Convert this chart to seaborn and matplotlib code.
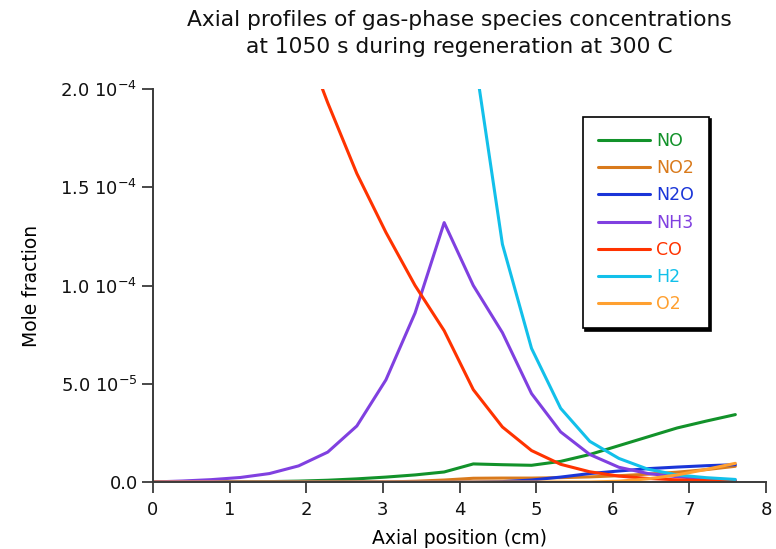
import numpy as np
import pandas as pd
import matplotlib
matplotlib.use("Agg")
import matplotlib.pyplot as plt
import seaborn as sns

nan = np.nan
position = [0.0, 0.38, 0.76, 1.14, 1.52, 1.9, 2.28, 2.66, 3.04, 3.42, 3.8,
            4.18, 4.56, 4.94, 5.32, 5.7, 6.08, 6.46, 6.84, 7.22, 7.6]

# values in units of 1e-6 mole fraction
NO = [0, 0, 0.05, 0.1, 0.2, 0.45, 0.9, 1.6, 2.5, 3.6, 5.1,
      9.2, 8.8, 8.5, 10.5, 14.0, 18.5, 23.0, 27.5, 31.0, 34.3]
NO2 = [0, 0, 0, 0, 0, 0, 0, 0, 0, 0.4, 1.0,
       1.9, 2.0, 2.0, 2.2, 2.6, 3.2, 4.0, 5.0, 6.3, 8.0]
N2O = [0, 0, 0, 0, 0, 0, 0, 0, 0, 0, 0,
       0, 0.2, 1.0, 2.5, 4.3, 5.6, 6.8, 7.6, 8.3, 8.8]
NH3 = [0, 0.5, 1.2, 2.3, 4.3, 8.2, 15.2, 28.5, 52.0, 86.0, 132.0,
       100.0, 76.0, 45.0, 25.5, 14.0, 7.5, 4.3, 2.7, 1.5, 0.8]
CO = [nan, nan, nan, nan, nan, 232.0, 193.0, 157.0, 127.0, 100.0, 77.0,
      47.0, 28.0, 16.0, 9.0, 5.2, 3.0, 1.8, 1.1, 0.7, 0.4]
H2 = [nan, nan, nan, nan, nan, nan, nan, nan, nan, nan, nan,
      221.0, 121.0, 68.0, 37.5, 20.7, 12.0, 6.5, 3.6, 2.2, 1.3]
O2 = [0, 0, 0, 0, 0, 0, 0, 0, 0, 0, 0,
      0, 0, 0, 0, 0, 0.4, 1.6, 3.6, 6.4, 9.5]

species = ["NO", "NO2", "N2O", "NH3", "CO", "H2", "O2"]
series = [NO, NO2, N2O, NH3, CO, H2, O2]
colors = ["#12922A", "#D97A1C", "#1A35D8", "#8040E0", "#FF3300", "#12C0EA", "#FFA030"]

y_ticks = [0.0, 5e-5, 1e-4, 1.5e-4, 2e-4]
y_ticklabels = ["0.0", r"5.0 10$^{-5}$", r"1.0 10$^{-4}$", r"1.5 10$^{-4}$", r"2.0 10$^{-4}$"]
x_ticks = [0, 1, 2, 3, 4, 5, 6, 7, 8]

rows = []
for name, vals in zip(species, series):
    for x, v in zip(position, vals):
        rows.append({"pos": x, "frac": v * 1e-6, "species": name})
df = pd.DataFrame(rows)

sns.set_theme(style="white")
plt.rcParams["font.family"] = ["DejaVu Sans"]
plt.rcParams["mathtext.fontset"] = "dejavusans"
plt.rcParams["text.color"] = "black"
plt.rcParams["axes.labelcolor"] = "black"

fig = plt.figure(figsize=(7.76, 5.49), dpi=100)
ax = fig.add_axes([153 / 776, 1 - 482 / 549, (766 - 153) / 776, (482 - 89) / 549])

sns.lineplot(data=df, x="pos", y="frac", hue="species", hue_order=species,
             palette=dict(zip(species, colors)), linewidth=2.2, ax=ax,
             estimator=None, sort=False)

ax.set_xlim(0, 8)
ax.set_ylim(0, 2e-4)
ax.set_xticks(x_ticks)
ax.set_xticklabels([str(t) for t in x_ticks], fontsize=13)
ax.set_yticks(y_ticks)
ax.set_yticklabels(y_ticklabels, fontsize=13)
ax.set_xlabel("Axial position (cm)", fontsize=13.5, labelpad=7)
ax.set_ylabel("Mole fraction", fontsize=13.5, labelpad=14)

for s in ["top", "right"]:
    ax.spines[s].set_visible(False)
for s in ["left", "bottom"]:
    ax.spines[s].set_color("#3a3a3a")
    ax.spines[s].set_linewidth(1.4)
ax.tick_params(axis="both", direction="out", length=8, width=1.3, color="#3a3a3a",
               labelcolor="#111111", bottom=True, left=True)
ax.tick_params(axis="x", pad=6)
ax.tick_params(axis="y", pad=3)

ax.set_title("Axial profiles of gas-phase species concentrations\nat 1050 s during regeneration at 300 C",
             fontsize=15.7, pad=26, linespacing=1.45, color="#111111")

leg = ax.legend(loc="upper left", bbox_to_anchor=(0.701, 0.929), borderaxespad=0,
                fontsize=12.5, handlelength=3.0, handletextpad=0.35, labelspacing=0.53,
                borderpad=0.87, frameon=True, fancybox=False,
                shadow={"ox": 1.6, "oy": -1.6, "color": "black", "alpha": 1.0})
leg.get_frame().set_edgecolor("black")
leg.get_frame().set_linewidth(1.2)
leg.get_frame().set_facecolor("white")
leg.get_frame().set_alpha(1)
for txt, c in zip(leg.get_texts(), colors):
    txt.set_color(c)
for h in leg.get_lines():
    h.set_linewidth(2.2)
leg.set_title(None)

fig.savefig("out.png", dpi=100)
